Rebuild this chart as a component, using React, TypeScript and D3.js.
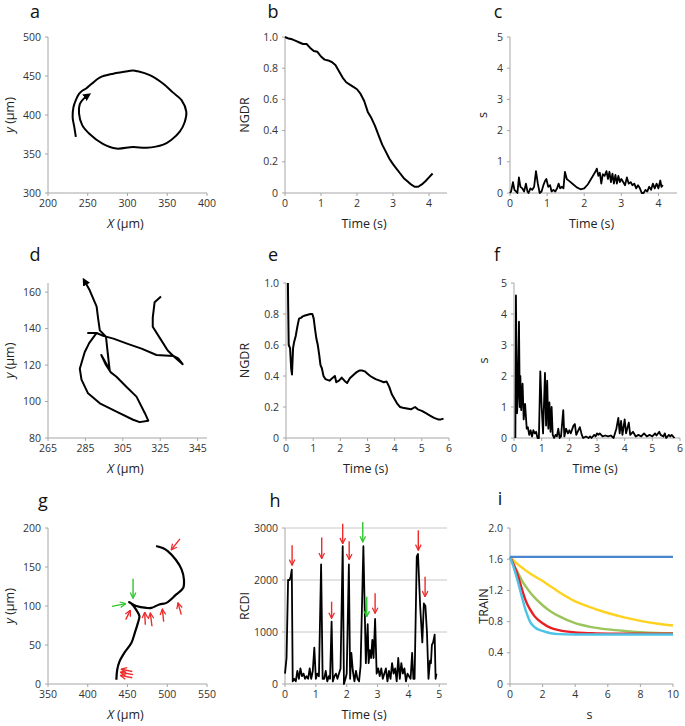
import React from 'react';
import * as d3 from 'd3';

// ---- panel a : trajectory (µm)
const aX = [235, 233, 231, 232, 235, 239, 243, 248, 255, 265, 282, 294, 307, 313, 328, 345, 357, 368, 374, 372, 366, 355, 345, 324, 307, 286, 269, 252, 243, 239, 240, 245, 250];
const aY = [372, 385, 397, 410, 419, 427, 431, 434, 440, 448, 453, 455, 457, 456, 451, 440, 429, 419, 404, 391, 379, 368, 362, 358, 359, 357, 363, 376, 387, 402, 414, 421, 425];

// ---- panel b : NGDR vs time
const bT = [0, 0.1, 0.2, 0.3, 0.4, 0.5, 0.6, 0.7, 0.8, 0.9, 1.0, 1.1, 1.2, 1.3, 1.4, 1.5, 1.6, 1.7, 1.8, 1.9, 2.0, 2.1, 2.2, 2.3, 2.4, 2.5, 2.6, 2.7, 2.8, 2.9, 3.0, 3.1, 3.2, 3.3, 3.4, 3.5, 3.6, 3.7, 3.8, 3.9, 4.0, 4.1];
const bV = [1.0, 0.99, 0.985, 0.975, 0.965, 0.955, 0.955, 0.93, 0.91, 0.905, 0.875, 0.855, 0.85, 0.84, 0.82, 0.78, 0.74, 0.71, 0.695, 0.68, 0.665, 0.635, 0.59, 0.52, 0.48, 0.43, 0.37, 0.31, 0.265, 0.22, 0.185, 0.155, 0.125, 0.095, 0.075, 0.055, 0.04, 0.04, 0.055, 0.075, 0.1, 0.125];

// ---- panel c : s vs time
const cT = [0, 0.03, 0.08, 0.12, 0.16, 0.2, 0.24, 0.28, 0.33, 0.38, 0.43, 0.47, 0.5, 0.55, 0.6, 0.65, 0.7, 0.75, 0.8, 0.85, 0.9, 0.95, 0.98, 1.03, 1.08, 1.12, 1.17, 1.22, 1.27, 1.31, 1.35, 1.4, 1.44, 1.48, 1.53, 1.6, 1.7, 1.8, 1.9, 2.0, 2.1, 2.2, 2.3, 2.34, 2.38, 2.42, 2.46, 2.5, 2.55, 2.6, 2.64, 2.68, 2.72, 2.76, 2.8, 2.84, 2.88, 2.92, 2.96, 3.0, 3.05, 3.1, 3.15, 3.2, 3.25, 3.3, 3.35, 3.4, 3.45, 3.5, 3.55, 3.6, 3.65, 3.7, 3.75, 3.8, 3.85, 3.9, 3.95, 4.0, 4.05, 4.08, 4.12];
const cV = [0, 0.05, 0.35, 0.1, 0.05, 0.0, 0.5, 0.2, 0.15, 0.05, 0.3, 0.05, 0.0, 0.15, 0.1, 0.2, 0.7, 0.3, 0.0, 0.05, 0.25, 0.4, 0.45, 0.2, 0.25, 0.05, 0.1, 0.05, 0.15, 0.3, 0.15, 0.2, 0.15, 0.68, 0.45, 0.38, 0.28, 0.18, 0.12, 0.15, 0.28, 0.48, 0.68, 0.78, 0.55, 0.65, 0.3, 0.6, 0.55, 0.7, 0.45, 0.68, 0.35, 0.62, 0.3, 0.58, 0.3, 0.55, 0.35, 0.45, 0.35, 0.25, 0.5, 0.3, 0.35, 0.25, 0.3, 0.15, 0.25, 0.15, 0.0, 0.0, 0.1, 0.05, 0.2, 0.1, 0.3, 0.15, 0.3, 0.15, 0.4, 0.2, 0.25];

// ---- panel d : trajectory (µm)
const dX = [325.4, 322, 321, 321, 325, 329, 332, 334.6, 337, 332, 323, 315, 308, 300, 294.5, 291, 286.4, 291, 287, 284.6, 282, 282.9, 286.4, 292.7, 301.6, 310.5, 314, 318.6, 316.8, 312.3, 307, 301.6, 298.6, 296, 293.5, 296, 298, 297, 296, 292.7, 291.8, 291, 287.3, 284.6];
const dY = [157.6, 154.5, 146, 141, 134.5, 128, 125, 123.6, 120.5, 125, 125.5, 129, 131.5, 134.5, 136, 137.6, 137.6, 137.6, 132, 127, 118, 112, 104.5, 99, 94.5, 90, 88.7, 89.5, 93.6, 102.7, 108, 113.6, 116, 120, 125.5, 121, 117, 126, 135.5, 139, 145.5, 152, 161, 166];

// ---- panel e : NGDR vs time
const eT = [0.07, 0.08, 0.1, 0.15, 0.19, 0.22, 0.26, 0.3, 0.36, 0.42, 0.48, 0.55, 0.62, 0.7, 0.8, 0.9, 0.97, 1.02, 1.07, 1.12, 1.17, 1.22, 1.27, 1.32, 1.38, 1.45, 1.6, 1.7, 1.8, 1.85, 1.95, 2.05, 2.15, 2.25, 2.35, 2.5, 2.6, 2.7, 2.8, 2.9, 3.0, 3.1, 3.2, 3.3, 3.45, 3.6, 3.7, 3.8, 3.9, 4.0, 4.1, 4.2, 4.3, 4.45, 4.6, 4.75, 4.85, 5.0, 5.15, 5.3, 5.45, 5.6, 5.7, 5.8];
const eV = [1.0, 0.85, 0.6, 0.58, 0.45, 0.41, 0.58, 0.62, 0.66, 0.72, 0.77, 0.775, 0.785, 0.79, 0.795, 0.8, 0.8, 0.77, 0.7, 0.64, 0.6, 0.54, 0.47, 0.45, 0.4, 0.38, 0.37, 0.385, 0.4, 0.36, 0.37, 0.39, 0.37, 0.355, 0.385, 0.41, 0.425, 0.435, 0.435, 0.43, 0.415, 0.4, 0.39, 0.38, 0.37, 0.36, 0.365, 0.33, 0.28, 0.25, 0.22, 0.2, 0.195, 0.19, 0.185, 0.2, 0.185, 0.175, 0.16, 0.145, 0.13, 0.12, 0.12, 0.125];

// ---- panel f : s vs time
const fT = [0.05, 0.07, 0.11, 0.14, 0.18, 0.21, 0.23, 0.26, 0.28, 0.31, 0.35, 0.4, 0.46, 0.5, 0.55, 0.6, 0.65, 0.7, 0.75, 0.8, 0.85, 0.9, 0.95, 1.0, 1.05, 1.12, 1.16, 1.2, 1.24, 1.28, 1.32, 1.36, 1.4, 1.45, 1.5, 1.55, 1.6, 1.65, 1.7, 1.78, 1.82, 1.88, 1.95, 2.0, 2.05, 2.15, 2.2, 2.25, 2.3, 2.38, 2.45, 2.5, 2.6, 2.7, 2.75, 2.8, 2.9, 2.95, 3.0, 3.05, 3.1, 3.2, 3.3, 3.4, 3.5, 3.6, 3.65, 3.7, 3.77, 3.82, 3.87, 3.92, 4.0, 4.05, 4.15, 4.2, 4.3, 4.4, 4.5, 4.6, 4.7, 4.8, 4.9, 5.0, 5.1, 5.15, 5.25, 5.3, 5.4, 5.45, 5.5, 5.6, 5.65, 5.7, 5.8];
const fV = [0, 4.6, 0.8, 1.3, 3.75, 1.0, 2.0, 0.9, 1.3, 1.75, 0.6, 1.1, 0.3, 0.35, 0.1, 0.25, 0.05, 0.25, 0.15, 0.2, 0.0, 0.0, 2.15, 1.0, 0.15, 2.1, 0.4, 1.85, 0.3, 1.15, 0.2, 1.0, 0.1, 0.0, 0.1, 0.05, 0.3, 0.0, 0.05, 0.9, 0.05, 0.3, 0.15, 0.25, 0.15, 0.4, 0.45, 0.1, 0.2, 0.35, 0.1, 0.0, 0.05, 0.0, 0.05, 0.0, 0.1, 0.05, 0.15, 0.1, 0.15, 0.05, 0.08, 0.05, 0.08, 0.0, 0.15, 0.3, 0.65, 0.15, 0.55, 0.1, 0.6, 0.15, 0.5, 0.1, 0.2, 0.05, 0.1, 0.05, 0.15, 0.05, 0.1, 0.05, 0.15, 0.08, 0.2, 0.1, 0.05, 0.15, 0.0, 0.1, 0.05, 0.1, 0.0];

// ---- panel g : trajectory (µm)
const gX = [436, 437, 440, 446, 455, 459, 463, 465, 461, 455, 452, 461, 474, 480, 490, 499, 511, 520, 521, 518, 511, 501, 495, 486];
const gY = [5.5, 18, 29, 40, 53, 65, 78, 87, 95, 103, 105, 100, 97.5, 97.5, 102, 104, 114.5, 123, 134, 147, 159, 170, 174, 177];
// arrows in g: [x1, y1, x2, y2]
const gRedArrows = [[516, 186, 505, 172], [447.7, 82.5, 453.6, 94.4], [472.4, 76, 471.6, 92], [480.8, 74, 478.7, 91], [495.5, 80, 493.8, 96], [517.7, 89, 513.5, 104], [456, 16, 442, 19], [457, 12, 441, 15], [456, 8, 441, 11]];
const gGreenArrows = [[457, 135, 457, 110], [430.5, 99.5, 447.7, 103]];

// ---- panel h : RCDI vs time
const hT = [0, 0.05, 0.1, 0.15, 0.18, 0.22, 0.25, 0.3, 0.35, 0.4, 0.45, 0.5, 0.55, 0.6, 0.65, 0.7, 0.75, 0.8, 0.85, 0.9, 0.95, 1.0, 1.05, 1.1, 1.17, 1.22, 1.27, 1.32, 1.37, 1.42, 1.46, 1.51, 1.55, 1.6, 1.65, 1.7, 1.75, 1.8, 1.87, 1.91, 1.96, 2.0, 2.07, 2.11, 2.15, 2.2, 2.25, 2.3, 2.35, 2.4, 2.45, 2.54, 2.62, 2.68, 2.71, 2.75, 2.79, 2.83, 2.87, 2.92, 2.97, 3.02, 3.07, 3.12, 3.17, 3.22, 3.27, 3.32, 3.37, 3.42, 3.47, 3.52, 3.57, 3.62, 3.67, 3.72, 3.77, 3.82, 3.87, 3.92, 3.97, 4.02, 4.07, 4.12, 4.16, 4.2, 4.27, 4.31, 4.38, 4.45, 4.5, 4.55, 4.6, 4.65, 4.7, 4.73, 4.76, 4.8, 4.85, 4.88, 4.91];
const hV = [200, 500, 2000, 2000, 2050, 2200, 50, 100, 50, 250, 100, 300, 150, 200, 100, 150, 100, 300, 100, 250, 700, 100, 200, 150, 2300, 100, 100, 250, 50, 150, 100, 1200, 50, 150, 200, 100, 200, 300, 2650, 0, 100, 200, 2300, 100, 600, 250, 50, 250, 100, 50, 350, 2650, 400, 1150, 400, 650, 500, 850, 500, 1250, 200, 300, 150, 300, 100, 200, 300, 50, 250, 100, 400, 200, 300, 50, 500, 100, 400, 200, 300, 50, 200, 150, 100, 600, 100, 100, 2450, 2500, 1500, 800, 1550, 1500, 1000, 100, 450, 400, 750, 800, 950, 100, 200];
// vertical annotation arrows in h: [t, from, to]
const hRedArrows = [[0.23, 2668, 2285], [1.19, 2815, 2413], [1.51, 1583, 1264], [1.87, 3083, 2700], [2.08, 2745, 2394], [2.92, 1743, 1360], [4.32, 2955, 2572], [4.54, 2062, 1679]];
const hGreenArrows = [[2.52, 3115, 2732], [2.65, 1679, 1296]];

// ---- panel i : TRAIN vs s
const iS = [0, 0.25, 0.5, 0.75, 1, 1.25, 1.5, 2, 2.5, 3, 4, 5, 6, 7, 8, 9, 10];
const iBlue = [1.63, 1.63, 1.63, 1.63, 1.63, 1.63, 1.63, 1.63, 1.63, 1.63, 1.63, 1.63, 1.63, 1.63, 1.63, 1.63, 1.63];
const iYellow = [1.63, 1.58, 1.53, 1.49, 1.45, 1.415, 1.38, 1.32, 1.25, 1.18, 1.06, 0.98, 0.91, 0.855, 0.81, 0.775, 0.75];
const iGreen = [1.63, 1.52, 1.42, 1.32, 1.24, 1.17, 1.11, 1.01, 0.93, 0.87, 0.78, 0.73, 0.7, 0.68, 0.665, 0.655, 0.65];
const iRed = [1.63, 1.52, 1.38, 1.2, 1.05, 0.95, 0.87, 0.78, 0.72, 0.69, 0.66, 0.65, 0.645, 0.645, 0.645, 0.645, 0.645];
const iCyan = [1.63, 1.48, 1.3, 1.1, 0.92, 0.79, 0.73, 0.68, 0.65, 0.64, 0.635, 0.635, 0.635, 0.635, 0.635, 0.635, 0.635];

const FONT = '"Open Sans", "Noto Sans", sans-serif';
const AXIS = '#a6a6a6';
const RED = '#ee2a2a';
const GREEN = '#2ec52e';

type Sc = d3.ScaleLinear<number, number>;
interface Cfg {
  letter: string; lx: number; ly: number;
  left: number; top: number; w: number; h: number;
  xd: [number, number]; yd: [number, number];
  xt: number[]; yt: number[]; yfmt?: (v: number) => string;
  xTitle: React.ReactNode; yTitle: React.ReactNode; yTitleX: number;
  grid?: number[];
}

function Panel({ c, draw }: { c: Cfg; draw: (x: Sc, y: Sc) => React.ReactNode }) {
  const x = d3.scaleLinear().domain(c.xd).range([c.left, c.left + c.w]);
  const y = d3.scaleLinear().domain(c.yd).range([c.top + c.h, c.top]);
  const y0 = c.top + c.h;
  const fmt = c.yfmt || ((v: number) => String(v));
  return (
    <g>
      <text x={c.lx} y={c.ly} fontSize={18} textAnchor="middle" fill="#111">{c.letter}</text>
      {(c.grid || []).map((g) => (
        <line key={'g' + g} x1={c.left} x2={c.left + c.w} y1={y(g)} y2={y(g)} stroke="#c8c8c8" strokeWidth={1} />
      ))}
      <line x1={c.left} x2={c.left} y1={c.top} y2={y0} stroke={AXIS} strokeWidth={1} />
      <line x1={c.left} x2={c.left + c.w} y1={y0} y2={y0} stroke={AXIS} strokeWidth={1} />
      {c.yt.map((t) => (
        <g key={'y' + t}>
          <line x1={c.left - 3} x2={c.left} y1={y(t)} y2={y(t)} stroke={AXIS} />
          <text x={c.left - 7} y={y(t)} dy="0.35em" textAnchor="end" fontSize={10.5} fill="#333">{fmt(t)}</text>
        </g>
      ))}
      {c.xt.map((t) => (
        <g key={'x' + t}>
          <line x1={x(t)} x2={x(t)} y1={y0} y2={y0 + 3} stroke={AXIS} />
          <text x={x(t)} y={y0 + 14} textAnchor="middle" fontSize={10.5} fill="#333">{t}</text>
        </g>
      ))}
      <text x={c.left + c.w / 2 - 2} y={y0 + 35} textAnchor="middle" fontSize={12.5} fill="#222">{c.xTitle}</text>
      <text transform={`translate(${c.yTitleX},${c.top + c.h / 2}) rotate(-90)`} textAnchor="middle" dy="0.35em" fontSize={12.5} fill="#222">{c.yTitle}</text>
      {draw(x, y)}
    </g>
  );
}

const pathOf = (xs: number[], ys: number[], x: Sc, y: Sc, curve: d3.CurveFactory = d3.curveLinear) =>
  d3.line<number>().x((v) => x(v)).y((_, i) => y(ys[i])).curve(curve)(xs) || '';

const um = (v: string) => (<><tspan fontStyle="italic">{v}</tspan> (µm)</>);
const dec1 = (v: number) => (v === 0 ? '0' : v.toFixed(1));

const cfgs: Record<string, Cfg> = {
  a: { letter: 'a', lx: 35, ly: 18, left: 48, top: 37, w: 159, h: 156, xd: [200, 400], yd: [300, 500], xt: [200, 250, 300, 350, 400], yt: [300, 350, 400, 450, 500], xTitle: um('X'), yTitle: um('y'), yTitleX: 10 },
  b: { letter: 'b', lx: 273, ly: 18, left: 285, top: 37, w: 162, h: 156, xd: [0, 4.5], yd: [0, 1], xt: [0, 1, 2, 3, 4], yt: [0, 0.2, 0.4, 0.6, 0.8, 1.0], yfmt: dec1, xTitle: 'Time (s)', yTitle: 'NGDR', yTitleX: 245 },
  c: { letter: 'c', lx: 498, ly: 18, left: 510, top: 37, w: 167, h: 156, xd: [0, 4.5], yd: [0, 5], xt: [0, 1, 2, 3, 4], yt: [0, 1, 2, 3, 4, 5], xTitle: 'Time (s)', yTitle: 's', yTitleX: 483 },
  d: { letter: 'd', lx: 35, ly: 261, left: 48, top: 283, w: 159, h: 155, xd: [265, 350], yd: [80, 165], xt: [265, 285, 305, 325, 345], yt: [80, 100, 120, 140, 160], xTitle: um('X'), yTitle: um('y'), yTitleX: 10 },
  e: { letter: 'e', lx: 273, ly: 261, left: 286, top: 283, w: 163, h: 155, xd: [0, 6], yd: [0, 1], xt: [0, 1, 2, 3, 4, 5, 6], yt: [0, 0.2, 0.4, 0.6, 0.8, 1.0], yfmt: dec1, xTitle: 'Time (s)', yTitle: 'NGDR', yTitleX: 245 },
  f: { letter: 'f', lx: 497, ly: 261, left: 514, top: 283, w: 166, h: 155, xd: [0, 6], yd: [0, 5], xt: [0, 1, 2, 3, 4, 5, 6], yt: [0, 1, 2, 3, 4, 5], xTitle: 'Time (s)', yTitle: 's', yTitleX: 484 },
  g: { letter: 'g', lx: 43, ly: 507, left: 48, top: 528, w: 159, h: 156, xd: [350, 550], yd: [0, 200], xt: [350, 400, 450, 500, 550], yt: [0, 50, 100, 150, 200], xTitle: um('X'), yTitle: um('y'), yTitleX: 10 },
  h: { letter: 'h', lx: 275, ly: 507, left: 285, top: 528, w: 162, h: 156, xd: [0, 5.25], yd: [0, 3000], xt: [0, 1, 2, 3, 4, 5], yt: [0, 1000, 2000, 3000], xTitle: 'Time (s)', yTitle: 'RCDI', yTitleX: 245, grid: [1000, 2000, 3000] },
  i: { letter: 'i', lx: 500, ly: 505, left: 510, top: 528, w: 163, h: 156, xd: [0, 10], yd: [0, 2], xt: [0, 2, 4, 6, 8, 10], yt: [0, 0.4, 0.8, 1.2, 1.6, 2.0], yfmt: dec1, xTitle: 's', yTitle: 'TRAIN', yTitleX: 484 },
};

const trace = { fill: 'none', stroke: '#000', strokeWidth: 2, strokeLinejoin: 'round' as const };

export default function App() {
  return (
    <svg width={685} height={726} style={{ display: 'block', position: 'absolute', left: 0, top: 0, background: '#fff' }} fontFamily={FONT}>
      <defs>
        <marker id="tri" viewBox="0 0 10 10" refX="5" refY="5" markerWidth="8" markerHeight="8" markerUnits="userSpaceOnUse" orient="auto">
          <path d="M0,0 L10,5 L0,10 z" fill="#000" />
        </marker>
        <marker id="redHead" viewBox="0 0 10 10" refX="9" refY="5" markerWidth="7" markerHeight="7" markerUnits="userSpaceOnUse" orient="auto">
          <path d="M1,1 L9,5 L1,9" fill="none" stroke={RED} strokeWidth={1.8} />
        </marker>
        <marker id="greenHead" viewBox="0 0 10 10" refX="9" refY="5" markerWidth="7" markerHeight="7" markerUnits="userSpaceOnUse" orient="auto">
          <path d="M1,1 L9,5 L1,9" fill="none" stroke={GREEN} strokeWidth={1.8} />
        </marker>
      </defs>
      <rect width={685} height={726} fill="#fff" />

      <Panel c={cfgs.a} draw={(x, y) => <path d={pathOf(aX, aY, x, y, d3.curveCatmullRom)} {...trace} markerEnd="url(#tri)" />} />
      <Panel c={cfgs.b} draw={(x, y) => <path d={pathOf(bT, bV, x, y)} {...trace} />} />
      <Panel c={cfgs.c} draw={(x, y) => <path d={pathOf(cT, cV, x, y)} {...trace} strokeWidth={1.8} />} />

      <Panel c={cfgs.d} draw={(x, y) => <path d={pathOf(dX, dY, x, y)} {...trace} markerEnd="url(#tri)" />} />
      <Panel c={cfgs.e} draw={(x, y) => <path d={pathOf(eT, eV, x, y)} {...trace} />} />
      <Panel c={cfgs.f} draw={(x, y) => <path d={pathOf(fT, fV, x, y)} {...trace} strokeWidth={1.8} />} />

      <Panel c={cfgs.g} draw={(x, y) => (
        <g>
          <path d={pathOf(gX, gY, x, y, d3.curveCatmullRom)} {...trace} strokeWidth={2.2} />
          {gRedArrows.map((a, i) => (
            <line key={'r' + i} x1={x(a[0])} y1={y(a[1])} x2={x(a[2])} y2={y(a[3])} stroke={RED} strokeWidth={1.4} markerEnd="url(#redHead)" />
          ))}
          {gGreenArrows.map((a, i) => (
            <line key={'gr' + i} x1={x(a[0])} y1={y(a[1])} x2={x(a[2])} y2={y(a[3])} stroke={GREEN} strokeWidth={1.4} markerEnd="url(#greenHead)" />
          ))}
        </g>
      )} />
      <Panel c={cfgs.h} draw={(x, y) => (
        <g>
          <path d={pathOf(hT, hV, x, y)} {...trace} strokeWidth={1.8} />
          {hRedArrows.map((a, i) => (
            <line key={'r' + i} x1={x(a[0])} y1={y(a[1])} x2={x(a[0])} y2={y(a[2])} stroke={RED} strokeWidth={1.4} markerEnd="url(#redHead)" />
          ))}
          {hGreenArrows.map((a, i) => (
            <line key={'g' + i} x1={x(a[0])} y1={y(a[1])} x2={x(a[0])} y2={y(a[2])} stroke={GREEN} strokeWidth={1.4} markerEnd="url(#greenHead)" />
          ))}
        </g>
      )} />
      <Panel c={cfgs.i} draw={(x, y) => {
        const mk = (vals: number[], col: string) => (
          <path d={pathOf(iS, vals, x, y, d3.curveMonotoneX)} fill="none" stroke={col} strokeWidth={2.4} />
        );
        return (
          <g>
            {mk(iYellow, '#ffd21f')}
            {mk(iGreen, '#9bc45a')}
            {mk(iRed, '#e81e25')}
            {mk(iCyan, '#4ec3e6')}
            {mk(iBlue, '#4a86cf')}
          </g>
        );
      }} />
    </svg>
  );
}
